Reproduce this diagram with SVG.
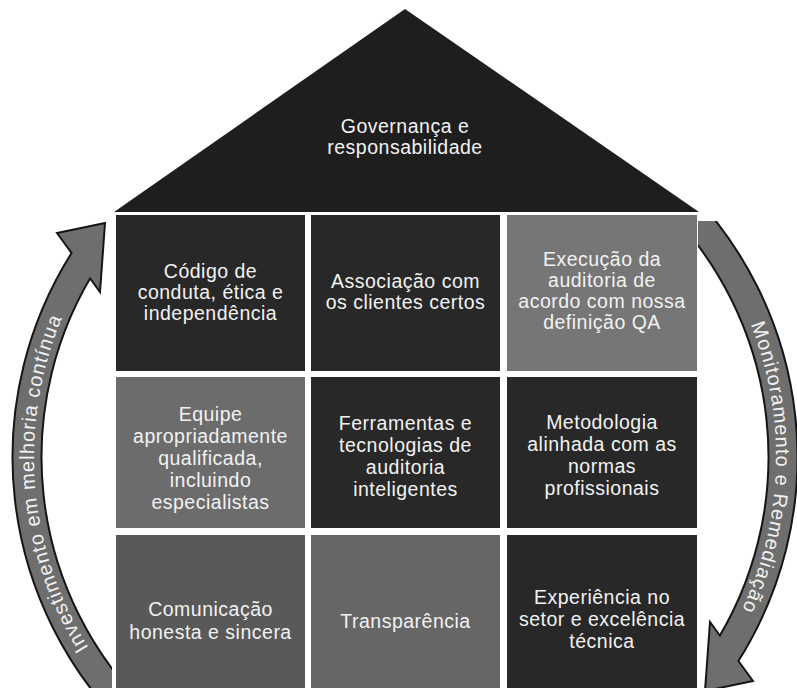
<svg xmlns="http://www.w3.org/2000/svg" width="797" height="688" viewBox="0 0 797 688">
<defs>
<style>
.lbl { font-family: "Liberation Sans", Arial, sans-serif; font-size: 19.5px; fill: #f2f2f2; text-anchor: middle; letter-spacing: 0.5px; }
.arc-lbl { font-family: "Liberation Sans", Arial, sans-serif; font-size: 20px; fill: #f2f2f2; text-anchor: middle; letter-spacing: 1px; }
.roof { fill: #1e1e1e; }
.dark { fill: #282828; }
.g1 { fill: #767676; }
.g2 { fill: #6c6c6c; }
.g3 { fill: #595959; }
.g4 { fill: #666666; }
.shaft-edge { fill: none; stroke: #151515; stroke-width: 31; }
.shaft { fill: none; stroke: #6e6e6e; stroke-width: 27; }
.head { fill: #6e6e6e; stroke: #151515; stroke-width: 2; stroke-linejoin: miter; }
</style>
<path id="shaftPath" d="M 86 257.4 A 378 372 0 0 0 137.7 720"/>
<path id="textArc" d="M 166.5 736.6 A 371 365 0 0 1 166.5 177.4" fill="none"/>
<clipPath id="tailClip"><rect x="-50" y="100" width="162" height="593"/></clipPath>
</defs>
<rect width="797" height="688" fill="#ffffff"/>

<g id="roof">
<polygon class="roof" points="114,212 405,9 699,212"/>
<text class="lbl" x="405" y="133">Governança e</text>
<text class="lbl" x="405" y="154">responsabilidade</text>
</g>

<g id="cell-codigo">
<rect class="dark" x="116" y="215" width="189" height="156"/>
<text class="lbl" x="210.5" y="278">Código de</text>
<text class="lbl" x="210.5" y="299">conduta, ética e</text>
<text class="lbl" x="210.5" y="320">independência</text>
</g>
<g id="cell-associacao">
<rect class="dark" x="311" y="215" width="189" height="156"/>
<text class="lbl" x="405.5" y="288">Associação com</text>
<text class="lbl" x="405.5" y="309">os clientes certos</text>
</g>
<g id="cell-execucao">
<rect class="g1" x="507" y="215" width="190" height="156"/>
<text class="lbl" x="602" y="266">Execução da</text>
<text class="lbl" x="602" y="287">auditoria de</text>
<text class="lbl" x="602" y="308">acordo com nossa</text>
<text class="lbl" x="602" y="329">definição QA</text>
</g>

<g id="cell-equipe">
<rect class="g2" x="116" y="377" width="189" height="151"/>
<text class="lbl" x="210.5" y="421">Equipe</text>
<text class="lbl" x="210.5" y="443">apropriadamente</text>
<text class="lbl" x="210.5" y="465">qualificada,</text>
<text class="lbl" x="210.5" y="487">incluindo</text>
<text class="lbl" x="210.5" y="509">especialistas</text>
</g>
<g id="cell-ferramentas">
<rect class="dark" x="311" y="377" width="189" height="151"/>
<text class="lbl" x="405.5" y="430">Ferramentas e</text>
<text class="lbl" x="405.5" y="452">tecnologias de</text>
<text class="lbl" x="405.5" y="474">auditoria</text>
<text class="lbl" x="405.5" y="496">inteligentes</text>
</g>
<g id="cell-metodologia">
<rect class="dark" x="507" y="377" width="190" height="151"/>
<text class="lbl" x="602" y="429">Metodologia</text>
<text class="lbl" x="602" y="451">alinhada com as</text>
<text class="lbl" x="602" y="473">normas</text>
<text class="lbl" x="602" y="495">profissionais</text>
</g>

<g id="cell-comunicacao">
<rect class="g3" x="116" y="535" width="189" height="153"/>
<text class="lbl" x="210.5" y="616">Comunicação</text>
<text class="lbl" x="210.5" y="639">honesta e sincera</text>
</g>
<g id="cell-transparencia">
<rect class="g4" x="311" y="535" width="189" height="153"/>
<text class="lbl" x="405.5" y="628">Transparência</text>
</g>
<g id="cell-experiencia">
<rect class="dark" x="507" y="535" width="190" height="153"/>
<text class="lbl" x="602" y="604">Experiência no</text>
<text class="lbl" x="602" y="626">setor e excelência</text>
<text class="lbl" x="602" y="648">técnica</text>
</g>

<g id="connectors">
<g id="arrow-investimento">
<g clip-path="url(#tailClip)"><use href="#shaftPath" class="shaft-edge"/></g>
<polygon class="head" points="57,233 105,223 100,292"/>
<g clip-path="url(#tailClip)"><use href="#shaftPath" class="shaft"/></g>
<text class="arc-lbl"><textPath href="#textArc" startOffset="45.5%">Investimento em melhoria contínua</textPath></text>
</g>
<g id="arrow-monitoramento" transform="rotate(180 405 457)">
<g clip-path="url(#tailClip)"><use href="#shaftPath" class="shaft-edge"/></g>
<polygon class="head" points="57,233 105,223 100,292"/>
<g clip-path="url(#tailClip)"><use href="#shaftPath" class="shaft"/></g>
<text class="arc-lbl"><textPath href="#textArc" startOffset="51.75%">Monitoramento e Remediação</textPath></text>
</g>
</g>
</svg>
